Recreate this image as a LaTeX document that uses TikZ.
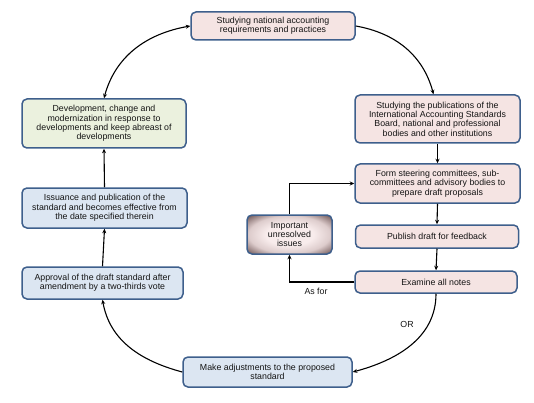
\documentclass[tikz,border=0pt]{standalone}
\usepackage{fontspec}
\setmainfont{Liberation Sans}
\usetikzlibrary{arrows.meta}
\definecolor{bord}{HTML}{3E5F8C}
\definecolor{pinkf}{HTML}{F5E4E3}
\definecolor{bluef}{HTML}{DCE6F2}
\definecolor{greenf}{HTML}{EBF1DE}
\definecolor{txt}{HTML}{141414}
\definecolor{impin}{HTML}{F8ECEC}
\definecolor{impmid}{HTML}{DDCCCC}
\definecolor{impout}{HTML}{745C5C}
\pgfdeclareradialshading{impshade}{\pgfpoint{0bp}{0bp}}{color(0bp)=(impin); color(14bp)=(impin); color(24bp)=(impmid); color(34bp)=(impout); color(50bp)=(impout)}
\tikzset{
  box/.style={draw=bord, line width=1.5pt, rounded corners=5pt, align=center,
    inner sep=0pt, font=\fontsize{8.8}{9.4}\selectfont, text=txt},
  pinkbox/.style={box, fill=pinkf},
  bluebox/.style={box, fill=bluef},
  greenbox/.style={box, fill=greenf},
  impbox/.style={box, shading=impshade},
  arr/.style={line width=1.1pt, -{Stealth[length=4.5pt,width=4pt]}},
  darr/.style={line width=1.1pt, {Stealth[length=4.5pt,width=4pt]}-{Stealth[length=4.5pt,width=4pt]}},
  lbl/.style={font=\fontsize{8.8}{9.4}\selectfont, text=txt, inner sep=0pt}
}
\begin{document}
\begin{tikzpicture}[x=1pt,y=-1pt]
\useasboundingbox (0,0) rectangle (534,403);
\node[pinkbox, minimum width=164pt, minimum height=28pt] (nat) at (273,26) {Studying national accounting\\requirements and practices};
\node[pinkbox, minimum width=165pt, minimum height=48pt] (pub) at (437.5,119) {Studying the publications of the\\International Accounting Standards\\Board, national and professional\\bodies and other institutions};
\node[pinkbox, minimum width=165pt, minimum height=39pt] (form) at (437.5,183.5) {Form steering committees, sub-\\committees and advisory bodies to\\prepare draft proposals};
\node[pinkbox, minimum width=163pt, minimum height=23pt] (publish) at (437,236.5) {Publish draft for feedback};
\node[pinkbox, minimum width=162pt, minimum height=22pt] (exam) at (436,282) {Examine all notes};
\node[impbox, minimum width=85pt, minimum height=39pt] (imp) at (289.5,234.5) {Important\\unresolved\\issues};
\node[bluebox, minimum width=169pt, minimum height=30pt] (make) at (267.5,372) {Make adjustments to the proposed\\standard};
\node[bluebox, minimum width=161pt, minimum height=32pt] (appr) at (102.5,283) {Approval of the draft standard after\\amendment by a two-thirds vote};
\node[bluebox, minimum width=165pt, minimum height=40pt] (iss) at (104.5,208) {Issuance and publication of the\\standard and becomes effective from\\the date specified therein};
\node[greenbox, minimum width=164pt, minimum height=49pt] (dev) at (104,123.5) {Development, change and\\modernization in response to\\developments and keep abreast of\\developments};
\node[lbl] (asfor) at (316,291) {As for};
\node[lbl] (or) at (407,324) {OR};

\draw[arr] (nat.east) to[out=-10,in=105] ([xshift=-4pt]pub.north);
\draw[arr] (pub.south) -- (form.north);
\draw[arr] (form.south) -- (publish.north);
\draw[arr] (publish.south) -- (exam.north);
\draw[arr] (exam.west) -| (imp.south);
\draw[arr] (imp.north) |- (form.west);
\draw[arr] (exam.south) to[out=-90,in=15] (make.east);
\draw[arr] (make.west) to[out=165,in=-80] (appr.south);
\draw[arr] (appr.north) -- (iss.south);
\draw[arr] (iss.north) -- (dev.south);
\draw[darr] (dev.north) to[out=75,in=190] (nat.west);
\end{tikzpicture}
\end{document}
